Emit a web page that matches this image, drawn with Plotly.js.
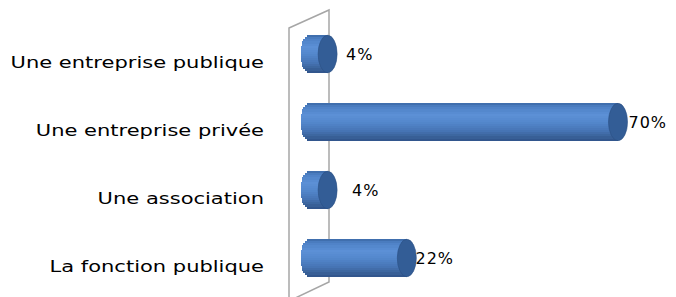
<!DOCTYPE html>
<html>
<head>
<meta charset="utf-8">
<script src="https://cdn.plot.ly/plotly-3.0.1.min.js"></script>
<style>
html,body{margin:0;padding:0;background:#fff;}
#chart{width:676px;height:297px;}
#chart .annotation-text{letter-spacing:1px;}
</style>
</head>
<body>
<div id="chart"></div>
<script>
// ---- data ----
const categories = ["La fonction publique", "Une association", "Une entreprise privée", "Une entreprise publique"];
const values = [22, 4, 70, 4];
const valueLabels = ["22%", "4%", "70%", "4%"];

// ---- styling ----
const W = 676, H = 297;
const marginL = 280;
const pxPerUnit = 4.4;       // horizontal scale
const zeroPx = 310;          // pixel of value 0
const rowPx = 68;            // pixel spacing between rows
const row0Px = 258;          // pixel y of first category
const barThick = 0.55;       // bar thickness in row units
const capA = 9.5 / pxPerUnit; // half-width of end ellipse in data units
const nStrips = 18;
const labelShift = [-1, 14, 0, 8];
const labelStretch = 1.4;    // horizontal stretch of category labels
const fontFam = "DejaVu Sans, Verdana, sans-serif";

const xr = [-(zeroPx - marginL) / pxPerUnit, (W - zeroPx) / pxPerUnit];
const yr = [-(H - row0Px) / rowPx, row0Px / rowPx];
const idx = categories.map((c, i) => i);

const stops = [
  [0.00, [59, 105, 166]],
  [0.10, [77, 128, 196]],
  [0.30, [92, 144, 214]],
  [0.50, [84, 136, 205]],
  [0.75, [70, 116, 180]],
  [0.90, [58, 98, 153]],
  [1.00, [47, 82, 136]]
];
function colorAt(t) {
  for (let i = 1; i < stops.length; i++) {
    if (t <= stops[i][0]) {
      const a = stops[i - 1], b = stops[i];
      const f = (t - a[0]) / (b[0] - a[0]);
      const c = a[1].map((v, j) => Math.round(v + (b[1][j] - v) * f));
      return `rgb(${c[0]},${c[1]},${c[2]})`;
    }
  }
  return 'rgb(47,82,136)';
}

const traces = [];
const sh = barThick / nStrips;
for (let k = 0; k < nStrips; k++) {
  const tc = (k + 0.5) / nStrips;          // 0 top .. 1 bottom
  const s = 1 - 2 * tc;                     // 1 top .. -1 bottom
  const baseOff = -capA * Math.sqrt(Math.max(0, 1 - s * s));
  const bottom = barThick / 2 - (k + 1) * sh;
  traces.push({
    type: 'bar',
    orientation: 'h',
    y: idx,
    base: values.map(() => baseOff),
    x: values.map(v => v - baseOff),
    offset: idx.map(() => bottom - 0.001),
    width: idx.map(() => sh + 0.002),
    marker: { color: colorAt(tc), line: { width: 0 } },
    hoverinfo: 'skip',
    showlegend: false
  });
}

function px2paperX(px) { return (px - marginL) / (W - marginL); }
function px2paperY(py) { return (H - py) / H; }

const shapes = [];
// back wall (decorative)
shapes.push({
  type: 'path', xref: 'paper', yref: 'paper', layer: 'below',
  path: `M ${px2paperX(289)},${px2paperY(28)} L ${px2paperX(329)},${px2paperY(10)} L ${px2paperX(329)},${px2paperY(282)} L ${px2paperX(289)},${px2paperY(301)} Z`,
  line: { color: '#a6a6a6', width: 1.5 },
  fillcolor: 'rgba(0,0,0,0)'
});
// end caps
values.forEach((v, i) => {
  shapes.push({
    type: 'circle', xref: 'x', yref: 'y', layer: 'above',
    x0: v - capA, x1: v + capA,
    y0: i - barThick / 2, y1: i + barThick / 2,
    fillcolor: '#335d96',
    line: { color: '#2c5185', width: 0.6 }
  });
});

const annotations = values.map((v, i) => ({
  x: v + capA, y: i, xref: 'x', yref: 'y',
  text: valueLabels[i], showarrow: false,
  xanchor: 'left', yanchor: 'middle', xshift: labelShift[i],
  font: { family: fontFam, size: 16, color: '#000' }
}));

const layout = {
  width: W, height: H,
  margin: { l: marginL, r: 0, t: 0, b: 0 },
  paper_bgcolor: '#fff', plot_bgcolor: 'rgba(0,0,0,0)',
  barmode: 'overlay',
  bargap: 0,
  showlegend: false,
  xaxis: { range: xr, visible: false, fixedrange: true },
  yaxis: {
    range: yr, tickmode: 'array', tickvals: idx, ticktext: categories,
    showgrid: false, zeroline: false, showline: false, ticks: '',
    ticklabelstandoff: 15,
    ticklabelshift: 9,
    tickfont: { family: fontFam, size: 15, color: '#000' },
    fixedrange: true
  },
  shapes: shapes,
  annotations: annotations
};

Plotly.newPlot('chart', traces, layout, { staticPlot: true, displayModeBar: false }).then(gd => {
  gd.querySelectorAll('.ytick text').forEach(t => {
    const w = t.getComputedTextLength();
    t.setAttribute('textLength', (w * labelStretch).toFixed(1));
    t.setAttribute('lengthAdjust', 'spacingAndGlyphs');
  });
});
</script>
</body>
</html>
